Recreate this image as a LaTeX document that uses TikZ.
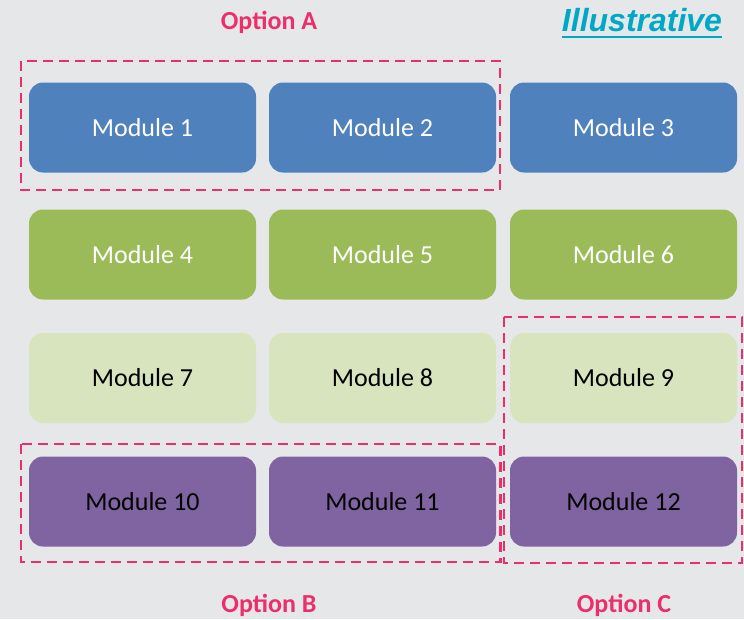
\documentclass[tikz,border=0pt]{standalone}
\usepackage{fontspec}
\setmainfont{Carlito}
\newfontfamily\illfont{Liberation Sans}
\usetikzlibrary{calc}
\definecolor{bgc}{RGB}{230,231,233}
\definecolor{mblue}{RGB}{79,129,189}
\definecolor{mgreen}{RGB}{155,187,89}
\definecolor{mlight}{RGB}{216,228,189}
\definecolor{mpurple}{RGB}{128,100,162}
\definecolor{optpink}{RGB}{236,46,107}
\definecolor{illcyan}{RGB}{0,168,200}
\tikzset{
  modbox/.style={rounded corners=14pt, minimum width=227pt, minimum height=90pt, inner sep=0pt, font=\fontsize{26}{30}\selectfont},
  bluebox/.style={modbox, fill=mblue, text=white},
  greenbox/.style={modbox, fill=mgreen, text=white},
  lightbox/.style={modbox, fill=mlight, text=black},
  purplebox/.style={modbox, fill=mpurple, text=black},
  optframe/.style={draw=optpink, line width=2.5pt, dash pattern=on 10pt off 6pt},
  optlabel/.style={text=optpink, font=\fontsize{26}{30}\selectfont\bfseries, inner sep=0pt}
}
\begin{document}
\begin{tikzpicture}[x=1pt,y=-1pt]
\fill[bgc] (0,0) rectangle (744,619);
\useasboundingbox (0,0) rectangle (744,619);
% row 1
\node[bluebox] (m1) at (142.5,127.5) {Module 1};
\node[bluebox] (m2) at (382.5,127.5) {Module 2};
\node[bluebox] (m3) at (623.5,127.5) {Module 3};
% row 2
\node[greenbox] (m4) at (142.5,254.5) {Module 4};
\node[greenbox] (m5) at (382.5,254.5) {Module 5};
\node[greenbox] (m6) at (623.5,254.5) {Module 6};
% row 3
\node[lightbox] (m7) at (142.5,378) {Module 7};
\node[lightbox] (m8) at (382.5,378) {Module 8};
\node[lightbox] (m9) at (623.5,378) {Module 9};
% row 4
\node[purplebox] (m10) at (142.5,501.5) {Module 10};
\node[purplebox] (m11) at (382.5,501.5) {Module 11};
\node[purplebox] (m12) at (623.5,501.5) {Module 12};
% option frames
\draw[optframe] (21,61) rectangle (500,190);
\draw[optframe] (21,444) rectangle (500.5,562);
\draw[optframe] (504,317) rectangle (742,563);
% labels
\node[optlabel] (oa) at (269,22) {Option A};
\node[optlabel] (ob) at (269,605) {Option B};
\node[optlabel] (oc) at (624,605) {Option C};
\node[text=illcyan, inner sep=0pt, font=\illfont\fontsize{32}{36}\selectfont\bfseries\itshape] (ill) at (642,20) {Illustrative};
\draw[illcyan, line width=2.2pt] (562,37) -- (722,37);
\end{tikzpicture}
\end{document}
